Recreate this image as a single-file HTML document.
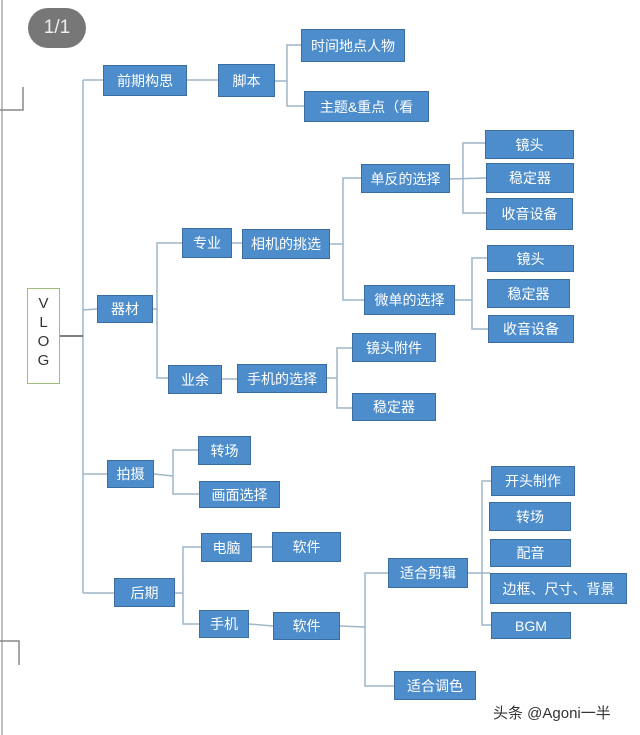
<!DOCTYPE html>
<html><head><meta charset="utf-8"><style>
body{margin:0;width:640px;height:735px;background:#fff;position:relative;overflow:hidden;font-family:"Liberation Sans","Noto Sans CJK SC",sans-serif}
.b{position:absolute;background:#4e8dcb;border:1px solid #3b6e9e;box-sizing:border-box;color:#fff;font-size:14px;display:flex;align-items:center;justify-content:center;white-space:nowrap;overflow:hidden}
svg{position:absolute;left:0;top:0}
</style></head><body>
<svg width="640" height="735">
<g stroke="#9db6c9" stroke-width="1.5" fill="none">
<line x1="2" y1="0" x2="2" y2="735" stroke="#aaa"/>
<polyline points="0,110 23,110 23,87" stroke="#888"/>
<polyline points="0,641 19,641 19,665" stroke="#888"/>
<line x1="83" y1="80" x2="83" y2="593"/>
<line x1="83" y1="80" x2="103" y2="80"/>
<line x1="83" y1="310" x2="97" y2="309"/>
<line x1="83" y1="474" x2="107" y2="474"/>
<line x1="83" y1="593" x2="114" y2="593"/>
<line x1="60" y1="336" x2="83" y2="336" stroke="#555"/>
<line x1="187" y1="80" x2="218" y2="80"/>
<polyline points="301,45 287,45 287,106 304,106"/><line x1="275" y1="81" x2="287" y2="81"/>
<polyline points="182,243 157,243 157,378 168,378"/><line x1="153" y1="309" x2="157" y2="309"/>
<line x1="232" y1="243" x2="242" y2="243"/>
<polyline points="361,178 343,178 343,300 364,300"/><line x1="330" y1="244" x2="343" y2="244"/>
<polyline points="485,143 463,143 463,213 486,213"/><line x1="450" y1="179" x2="486" y2="178"/>
<polyline points="487,258 472,258 472,329 488,329"/><line x1="455" y1="300" x2="472" y2="300"/>
<line x1="222" y1="379" x2="237" y2="379"/>
<polyline points="352,348 337,348 337,408 352,408"/><line x1="327" y1="378" x2="337" y2="378"/>
<polyline points="198,450 173,450 173,494 199,494"/><line x1="154" y1="474" x2="173" y2="476"/>
<polyline points="201,547 183,547 183,624 199,624"/><line x1="175" y1="593" x2="183" y2="593"/>
<line x1="252" y1="547" x2="272" y2="547"/>
<line x1="249" y1="624" x2="273" y2="626"/>
<polyline points="388,573 365,573 365,686 394,686"/><line x1="340" y1="626" x2="365" y2="627"/>
<polyline points="491,481 482,481 482,625 491,625"/><line x1="468" y1="573" x2="490" y2="573"/>
</g></svg>
<div style="position:absolute;left:28px;top:8px;width:58px;height:40px;border-radius:20px;background:#777;color:#eee;font-size:19px;display:flex;align-items:center;justify-content:center">1/1</div>
<div style="position:absolute;left:27px;top:288px;width:33px;height:96px;border:1.5px solid #9bbf7a;box-sizing:border-box;font-size:15px;color:#333;text-align:center;line-height:19px;padding-top:5px">V<br>L<br>O<br>G</div>
<div class="b" style="left:103px;top:65px;width:84px;height:31px">前期构思</div>
<div class="b" style="left:218px;top:64px;width:57px;height:33px">脚本</div>
<div class="b" style="left:301px;top:29px;width:104px;height:33px">时间地点人物</div>
<div class="b" style="left:304px;top:91px;width:125px;height:31px">主题&amp;重点（看</div>
<div class="b" style="left:97px;top:295px;width:56px;height:28px">器材</div>
<div class="b" style="left:182px;top:228px;width:50px;height:30px">专业</div>
<div class="b" style="left:242px;top:229px;width:88px;height:30px">相机的挑选</div>
<div class="b" style="left:361px;top:164px;width:89px;height:29px">单反的选择</div>
<div class="b" style="left:485px;top:130px;width:89px;height:29px">镜头</div>
<div class="b" style="left:486px;top:163px;width:88px;height:30px">稳定器</div>
<div class="b" style="left:486px;top:198px;width:87px;height:32px">收音设备</div>
<div class="b" style="left:364px;top:285px;width:91px;height:30px">微单的选择</div>
<div class="b" style="left:487px;top:245px;width:87px;height:27px">镜头</div>
<div class="b" style="left:487px;top:279px;width:83px;height:29px">稳定器</div>
<div class="b" style="left:488px;top:315px;width:86px;height:28px">收音设备</div>
<div class="b" style="left:168px;top:365px;width:54px;height:29px">业余</div>
<div class="b" style="left:237px;top:364px;width:90px;height:29px">手机的选择</div>
<div class="b" style="left:352px;top:333px;width:84px;height:29px">镜头附件</div>
<div class="b" style="left:352px;top:393px;width:84px;height:28px">稳定器</div>
<div class="b" style="left:107px;top:460px;width:47px;height:28px">拍摄</div>
<div class="b" style="left:198px;top:436px;width:53px;height:29px">转场</div>
<div class="b" style="left:199px;top:481px;width:81px;height:27px">画面选择</div>
<div class="b" style="left:201px;top:533px;width:51px;height:29px">电脑</div>
<div class="b" style="left:272px;top:532px;width:69px;height:30px">软件</div>
<div class="b" style="left:114px;top:578px;width:61px;height:29px">后期</div>
<div class="b" style="left:199px;top:610px;width:50px;height:28px">手机</div>
<div class="b" style="left:273px;top:612px;width:67px;height:28px">软件</div>
<div class="b" style="left:388px;top:558px;width:80px;height:30px">适合剪辑</div>
<div class="b" style="left:491px;top:466px;width:84px;height:30px">开头制作</div>
<div class="b" style="left:489px;top:502px;width:82px;height:29px">转场</div>
<div class="b" style="left:490px;top:539px;width:81px;height:28px">配音</div>
<div class="b" style="left:490px;top:573px;width:137px;height:31px">边框、尺寸、背景</div>
<div class="b" style="left:491px;top:612px;width:80px;height:27px">BGM</div>
<div class="b" style="left:394px;top:671px;width:82px;height:29px">适合调色</div>
<div style="position:absolute;left:493px;top:702px;font-size:15px;color:#333">头条 @Agoni一半</div>
</body></html>
